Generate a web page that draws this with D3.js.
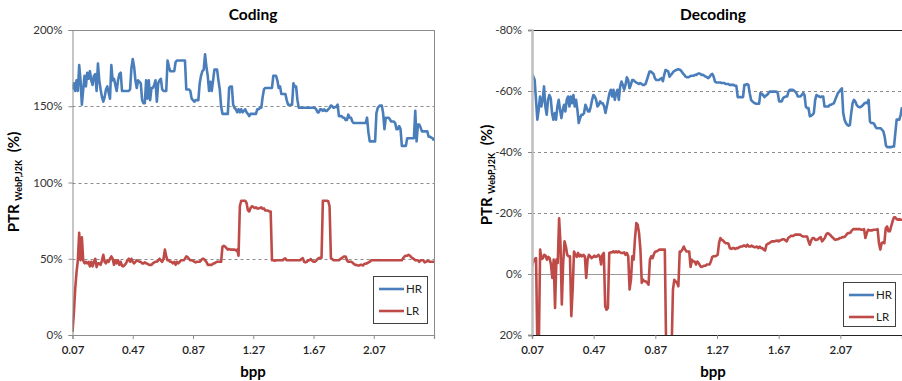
<!DOCTYPE html>
<html><head><meta charset="utf-8">
<script src="https://cdn.jsdelivr.net/npm/d3@7"></script>
<style>
body{margin:0;background:#fff;}
text{font-family:Lato,"Open Sans",Arial,sans-serif;}
</style></head>
<body>
<script>
// ---------- DATA ----------
const seriesNames = ["HR", "LR"];
const bppDomain = [0.07, 2.47];
const xTickValues = [0.07, 0.47, 0.87, 1.27, 1.67, 2.07];
const codingYTicks = [0, 50, 100, 150, 200];
const decodingYTicks = [-80, -60, -40, -20, 0, 20];

// Coding PTR (%) sampled evenly along bpp
const codingHR = [161,165,160,167,160,177,167,151,161,170,163,172,168,173,167,164,170,171,160,178,167,161,156,153,156,161,163,159,155,177,167,168,164,160,167,171,172,160,160,160,160,160,160,161,175,181,176,167,162,167,166,165,154,152,152,167,155,167,154,162,162,164,167,153,165,167,168,161,160,160,160,180,176,173,173,173,173,179,180,180,180,180,180,180,180,161,161,161,160,155,154,153,154,154,154,165,170,173,174,184,176,170,160,166,160,167,174,174,174,167,161,150,145,145,145,145,145,162,163,163,151,149,148,146,148,146,148,146,147,148,146,145,143.5,145,145,145,145,145,148,148,149,149,156,161,162,162,162,162,162,162,170,170,170,167,162,163,158,158,158,158,154,151,151,151,151,165,163,163,154,149,149,149,149,149,149,149,149,149,149,149,149,149,148,146,146,148,148,147,148,147,147,148,149,150.5,150,149,149.5,149.5,151,143.5,143.5,143.5,142.5,142.5,141,141,144.5,142.5,142.5,140,139,139,139,139,139,139,139,139,139,139,142.5,133,127,127,127,127,127,145.5,149,150,150.5,150.5,145.5,135,142.5,142.5,142.5,141.5,140,140,140,139,135,135,137,135,124,124,124,124,129,129,129,129,129,129,147,127,138,138,136,133.5,133.5,133.5,133.5,133.5,130,130,129.5,129,127.5];
const codingLR = [2,14,30,41,49,67,49,64,49,47,48,47,48,45,48,45,48,50,44.5,47,47,46,49,52.6,48,47,49,48,50,51.5,50,46,49,47,49,46,48,45.4,45,46,47,49,50,48,50,48,47,48,49,48.7,48,48,47,47,47.6,47,46.7,46,46,46,47,47.6,48,48,49,50,49,48,50,56,51.5,49,49,48,48,47,48,46,48,47,48,49,49,49,50,51.5,51,50,49,49,48.7,48,47.6,48,48,48,49,50,50,49,48,46,46,46,46,46.7,47,47.6,48,48,48,48,58,58.5,58,57,56,56.4,56,56,56,56,55.5,56,52,84.4,88,88,88,88,86.6,81.8,81,83.3,84.4,84,83.3,83.7,83,83,83.3,83.7,82.7,83,81.6,81.6,81.6,81,81,49,49,48.7,49,49,49,49,49,49,49.8,50.2,49,49,49,49,49,49,49,49,49,49,49,49.8,50.4,48,47.6,48,49,49,49.8,48.7,48,48,48.7,49.8,50.4,50.6,50.6,88,88,88,88,87.7,84.4,50.4,49.8,49,49,49,49,49,49.8,50.4,51,51.5,51.5,49,48,48,48,47.6,46.7,46,46,45.6,45.6,46,46,45.6,46.7,46.7,47,47.6,48,49,49,49,49,49,49,49,49,49,49,49,49,49,49,49,49,49,49,49,49,49,49,49,49,50.4,51.5,52,52,52.6,52,51,50.4,49.8,49,49,49,48,49,49,49,47.6,48,48.5,48.5,48,48,48,48];

// Decoding PTR (%) sampled evenly along bpp
const decodingHR = [-65.8,-64.7,-63.6,-57.1,-50.6,-53.8,-58.2,-54.9,-57.1,-61.5,-54.9,-52.2,-57.1,-58.7,-57.7,-52.8,-50.6,-52.8,-50.6,-54.9,-57.1,-53.8,-51.1,-53.8,-55.5,-53.3,-57.1,-58.2,-54.9,-58.2,-56.0,-58.7,-54.9,-57.1,-53.8,-49.5,-51.1,-52.2,-52.2,-52.8,-55.5,-54.4,-53.3,-53.3,-54.9,-57.1,-58.7,-58.2,-57.1,-54.9,-55.5,-56.6,-56.0,-56.0,-54.9,-52.8,-54.9,-57.1,-59.3,-60.4,-58.2,-60.4,-57.1,-59.3,-60.4,-57.1,-61.5,-63.1,-62.0,-60.4,-62.0,-64.5,-63.6,-60.9,-62.0,-63.6,-63.6,-63.1,-62.8,-62.6,-62.3,-62.6,-62.3,-62.0,-62.0,-62.3,-63.6,-65.0,-66.4,-66.4,-66.0,-65.6,-64.2,-63.6,-63.6,-63.6,-63.9,-64.2,-63.2,-65.3,-66.9,-66.7,-66.4,-64.7,-65.3,-65.8,-66.4,-66.7,-66.9,-67.1,-67.1,-66.9,-66.4,-65.8,-65.3,-64.7,-64.5,-64.5,-64.7,-65.0,-65.0,-65.0,-65.3,-65.3,-65.6,-65.8,-65.6,-65.3,-65.3,-65.0,-64.7,-64.5,-64.2,-64.7,-65.3,-65.6,-64.7,-63.1,-62.8,-62.8,-62.8,-62.8,-62.6,-62.6,-62.6,-62.3,-62.3,-62.3,-62.0,-62.0,-62.0,-62.0,-61.7,-61.7,-58.0,-58.0,-58.0,-58.0,-58.0,-62.0,-62.0,-62.3,-62.0,-59.3,-57.1,-56.6,-56.2,-56.0,-55.8,-55.8,-55.8,-59.3,-59.1,-58.7,-58.0,-58.5,-58.7,-59.3,-59.8,-59.8,-59.8,-59.8,-59.8,-59.8,-59.3,-56.6,-56.6,-56.6,-57.7,-58.0,-58.2,-58.2,-59.8,-60.4,-60.4,-60.4,-60.2,-59.8,-59.3,-58.2,-58.2,-58.2,-58.7,-59.3,-58.7,-54.9,-54.4,-54.4,-51.7,-51.9,-52.2,-52.8,-57.1,-58.7,-58.4,-58.2,-58.0,-58.2,-58.2,-54.9,-54.9,-54.9,-54.9,-55.5,-55.5,-55.8,-56.0,-57.1,-58.2,-59.3,-59.8,-60.4,-60.9,-52.8,-50.6,-49.5,-48.9,-48.6,-48.9,-52.8,-56.0,-57.1,-56.6,-55.5,-54.9,-54.7,-54.7,-55.1,-55.5,-56.0,-56.2,-56.0,-57.1,-50.0,-49.5,-49.5,-49.3,-48.4,-47.8,-47.8,-47.8,-47.8,-47.3,-46.8,-45.1,-42.1,-41.6,-41.6,-41.6,-41.6,-41.8,-41.8,-46.2,-50.6,-50.6,-50.6,-52.2,-54.7];
const decodingLR = [-2.7,-4.1,-4.9,-5.2,25,25,-8.0,-4.9,-5.2,-6.3,-6.0,-4.7,-5.6,-5.2,-3.1,1.3,-4.7,11.1,-4.7,-3.6,-18.3,-10.1,10.0,-3.6,-10.7,-9.0,-6.3,-5.8,-5.8,13.8,5.1,-7.4,-6.3,-5.6,-6.9,-5.8,-6.3,-5.8,-6.3,-5.8,1.3,-4.7,-6.3,-5.8,-5.2,-5.6,-6.0,-5.6,-5.8,-6.3,-5.8,-3.1,-6.3,-6.9,10.6,11.7,11.1,-6.9,-7.1,-7.1,-7.4,-7.1,-7.4,-7.1,-7.4,-7.1,-6.9,-6.9,-7.1,-6.3,-6.9,-5.8,5.1,1.9,-5.8,-4.7,-11.8,-16.7,-16.1,-13.4,-8.0,2.9,1.9,2.4,2.4,2.9,3.5,-4.7,-5.8,-5.2,-6.6,-7.4,-7.4,-7.7,-8.0,-8.0,-8.0,-8.0,-8.0,25,25,25,25,25,5.1,1.9,2.4,2.9,4.0,-7.4,-7.4,-8.0,-9.0,-8.0,-7.4,-7.4,-7.4,-2.3,-4.7,-4.1,-4.1,-3.1,-4.1,-3.6,-2.7,-2.3,-2.5,-2.7,-2.7,-3.1,-3.1,-3.1,-4.1,-5.6,-5.8,-5.8,-6.0,-6.3,-10.1,-11.8,-11.2,-11.0,-10.4,-10.1,-10.1,-9.9,-8.5,-8.2,-8.5,-8.5,-8.2,-8.5,-8.5,-8.8,-9.0,-9.0,-9.3,-9.3,-9.0,-9.6,-9.0,-9.0,-9.3,-9.0,-8.8,-8.8,-9.0,-8.5,-9.0,-8.5,-8.5,-8.0,-7.7,-9.6,-9.9,-10.1,-10.4,-10.7,-10.7,-10.7,-10.9,-11.0,-10.7,-11.0,-11.2,-11.4,-11.4,-11.0,-10.7,-11.8,-12.1,-12.5,-12.5,-12.5,-12.9,-12.9,-12.9,-12.9,-12.9,-12.5,-12.3,-12.3,-12.3,-12.3,-10.7,-9.6,-11.0,-11.8,-11.8,-11.2,-11.2,-11.4,-11.8,-12.1,-10.7,-11.2,-11.8,-12.9,-13.4,-13.2,-12.8,-12.3,-11.9,-11.4,-11.2,-11.4,-11.4,-11.8,-11.8,-12.1,-12.1,-12.3,-12.9,-13.4,-13.4,-13.6,-14.3,-14.7,-14.7,-14.7,-14.7,-14.7,-14.7,-14.5,-14.5,-14.7,-11.8,-13.4,-14.5,-14.3,-14.3,-14.3,-14.5,-14.5,-14.5,-14.7,-10.1,-8.0,-10.1,-10.4,-10.1,-15.0,-15.6,-14.0,-14.0,-15.6,-17.2,-18.5,-18.6,-18.0,-17.8,-18.0,-17.8,-17.8];

const colors = {HR: "#4a7ebb", LR: "#be4b48"};

// ---------- DRAW ----------
const W = 902, H = 381;
const svg = d3.select("body").append("svg").attr("width", W).attr("height", H);

function panel(cfg) {
  const g = svg.append("g");
  const x = d3.scaleLinear().domain(bppDomain).range([cfg.left, cfg.right]);
  const y = d3.scaleLinear().domain(cfg.yDomain).range([cfg.bottom, cfg.top]);
  const id = "clip" + cfg.key;
  svg.append("clipPath").attr("id", id).append("rect")
    .attr("x", cfg.left).attr("y", cfg.top)
    .attr("width", cfg.right - cfg.left).attr("height", cfg.bottom - cfg.top);

  // gridlines
  g.selectAll(".grid").data(cfg.dashed).join("line")
    .attr("x1", cfg.left).attr("x2", cfg.right)
    .attr("y1", d => Math.round(y(d)) + 0.5).attr("y2", d => Math.round(y(d)) + 0.5)
    .attr("stroke", "#8c8c8c").attr("stroke-width", 1).attr("stroke-dasharray", "3,3");
  (cfg.solid || []).forEach(s => {
    g.append("line").attr("x1", cfg.left).attr("x2", cfg.right)
      .attr("y1", Math.round(y(s.v)) + 0.5).attr("y2", Math.round(y(s.v)) + 0.5)
      .attr("stroke", s.c).attr("stroke-width", s.w || 1);
  });
  if (cfg.rightBorder) {
    g.append("line").attr("x1", cfg.right + 0.5).attr("x2", cfg.right + 0.5)
      .attr("y1", cfg.top).attr("y2", cfg.bottom).attr("stroke", "#8c8c8c");
  }

  // lines
  const line = d3.line().x(d => x(d[0])).y(d => y(d[1]));
  const series = {HR: cfg.HR, LR: cfg.LR};
  seriesNames.forEach(name => {
    const vals = series[name];
    const n = vals.length;
    const pts = vals.map((v, i) => [bppDomain[0] + i * (bppDomain[1] - bppDomain[0]) / (n - 1), v]);
    g.append("path").datum(pts).attr("d", line)
      .attr("fill", "none").attr("stroke", colors[name]).attr("stroke-width", 2.6)
      .attr("stroke-linejoin", "round").attr("clip-path", `url(#${id})`);
  });

  // y axis
  const ya = g.append("g").attr("transform", `translate(${cfg.left},0)`)
    .call(d3.axisLeft(y).tickValues(cfg.yTicks).tickFormat(d => d + "%").tickSize(4).tickPadding(6));
  ya.select(".domain").attr("stroke", cfg.yAxisColor).attr("stroke-width", cfg.yAxisWidth);
  ya.selectAll(".tick line").attr("stroke", "#8c8c8c");
  ya.selectAll(".tick text").attr("font-size", 11.5).attr("fill", "#333");

  // x axis
  const xa = g.append("g").attr("transform", `translate(0,${cfg.bottom})`)
    .call(d3.axisBottom(x).tickValues(xTickValues).tickFormat(d3.format(".2f")).tickSize(4).tickPadding(7));
  xa.select(".domain").attr("stroke", cfg.xAxisColor).attr("stroke-width", 1.2);
  xa.selectAll(".tick line").attr("stroke", "#8c8c8c");
  xa.selectAll(".tick text").attr("font-size", 11.5).attr("fill", "#222").attr("font-weight", 600);

  // titles
  g.append("text").attr("x", cfg.titleX).attr("y", 20).attr("text-anchor", "middle")
    .attr("font-size", 15.5).attr("font-weight", "bold").text(cfg.title);
  g.append("text").attr("x", cfg.titleX).attr("y", 377).attr("text-anchor", "middle")
    .attr("font-size", 15).attr("font-weight", "bold").text("bpp");

  const yl = g.append("text").attr("transform", `translate(${cfg.ylabX},${cfg.ylabY}) rotate(-90)`)
    .attr("text-anchor", "middle").attr("font-weight", "bold").attr("font-size", 15);
  yl.append("tspan").text("PTR ");
  yl.append("tspan").attr("font-size", 9).attr("dy", 3).text("WebP,J2K");
  yl.append("tspan").attr("dy", -3).attr("dx", 4).text(" (%)");

  // legend
  const lg = g.append("g");
  lg.append("rect").attr("x", cfg.legX + 0.5).attr("y", cfg.legY + 0.5)
    .attr("width", cfg.legW).attr("height", cfg.legH)
    .attr("fill", "#fff").attr("stroke", "#404040").attr("stroke-width", 1);
  seriesNames.forEach((name, i) => {
    const yy = cfg.legY + 13 + i * 22;
    lg.append("line").attr("x1", cfg.legX + 6).attr("x2", cfg.legX + 31)
      .attr("y1", yy).attr("y2", yy).attr("stroke", colors[name]).attr("stroke-width", 2.6);
    lg.append("text").attr("x", cfg.legX + 33).attr("y", yy + 4)
      .attr("font-size", 11.5).attr("fill", "#222").text(name);
  });
}

panel({
  key: "c", title: "Coding", left: 72.5, right: 434, top: 30, bottom: 335,
  yDomain: [0, 200], yTicks: codingYTicks, dashed: [50, 100, 150],
  solid: [{v: 200, c: "#8c8c8c"}], rightBorder: true,
  yAxisColor: "#8c8c8c", yAxisWidth: 1, xAxisColor: "#8c8c8c",
  HR: codingHR, LR: codingLR, titleX: 253, ylabX: 19, ylabY: 182,
  legX: 373, legY: 276, legW: 54, legH: 47
});

panel({
  key: "d", title: "Decoding", left: 532, right: 902, top: 30, bottom: 335,
  yDomain: [20, -80], yTicks: decodingYTicks, dashed: [-60, -40, -20],
  solid: [{v: -80, c: "#222"}, {v: 0, c: "#9a9a9a"}], rightBorder: false,
  yAxisColor: "#bfbfbf", yAxisWidth: 2.5, xAxisColor: "#222",
  HR: decodingHR, LR: decodingLR, titleX: 713, ylabX: 492, ylabY: 175,
  legX: 843, legY: 282, legW: 52, legH: 44
});
</script>
</body></html>
